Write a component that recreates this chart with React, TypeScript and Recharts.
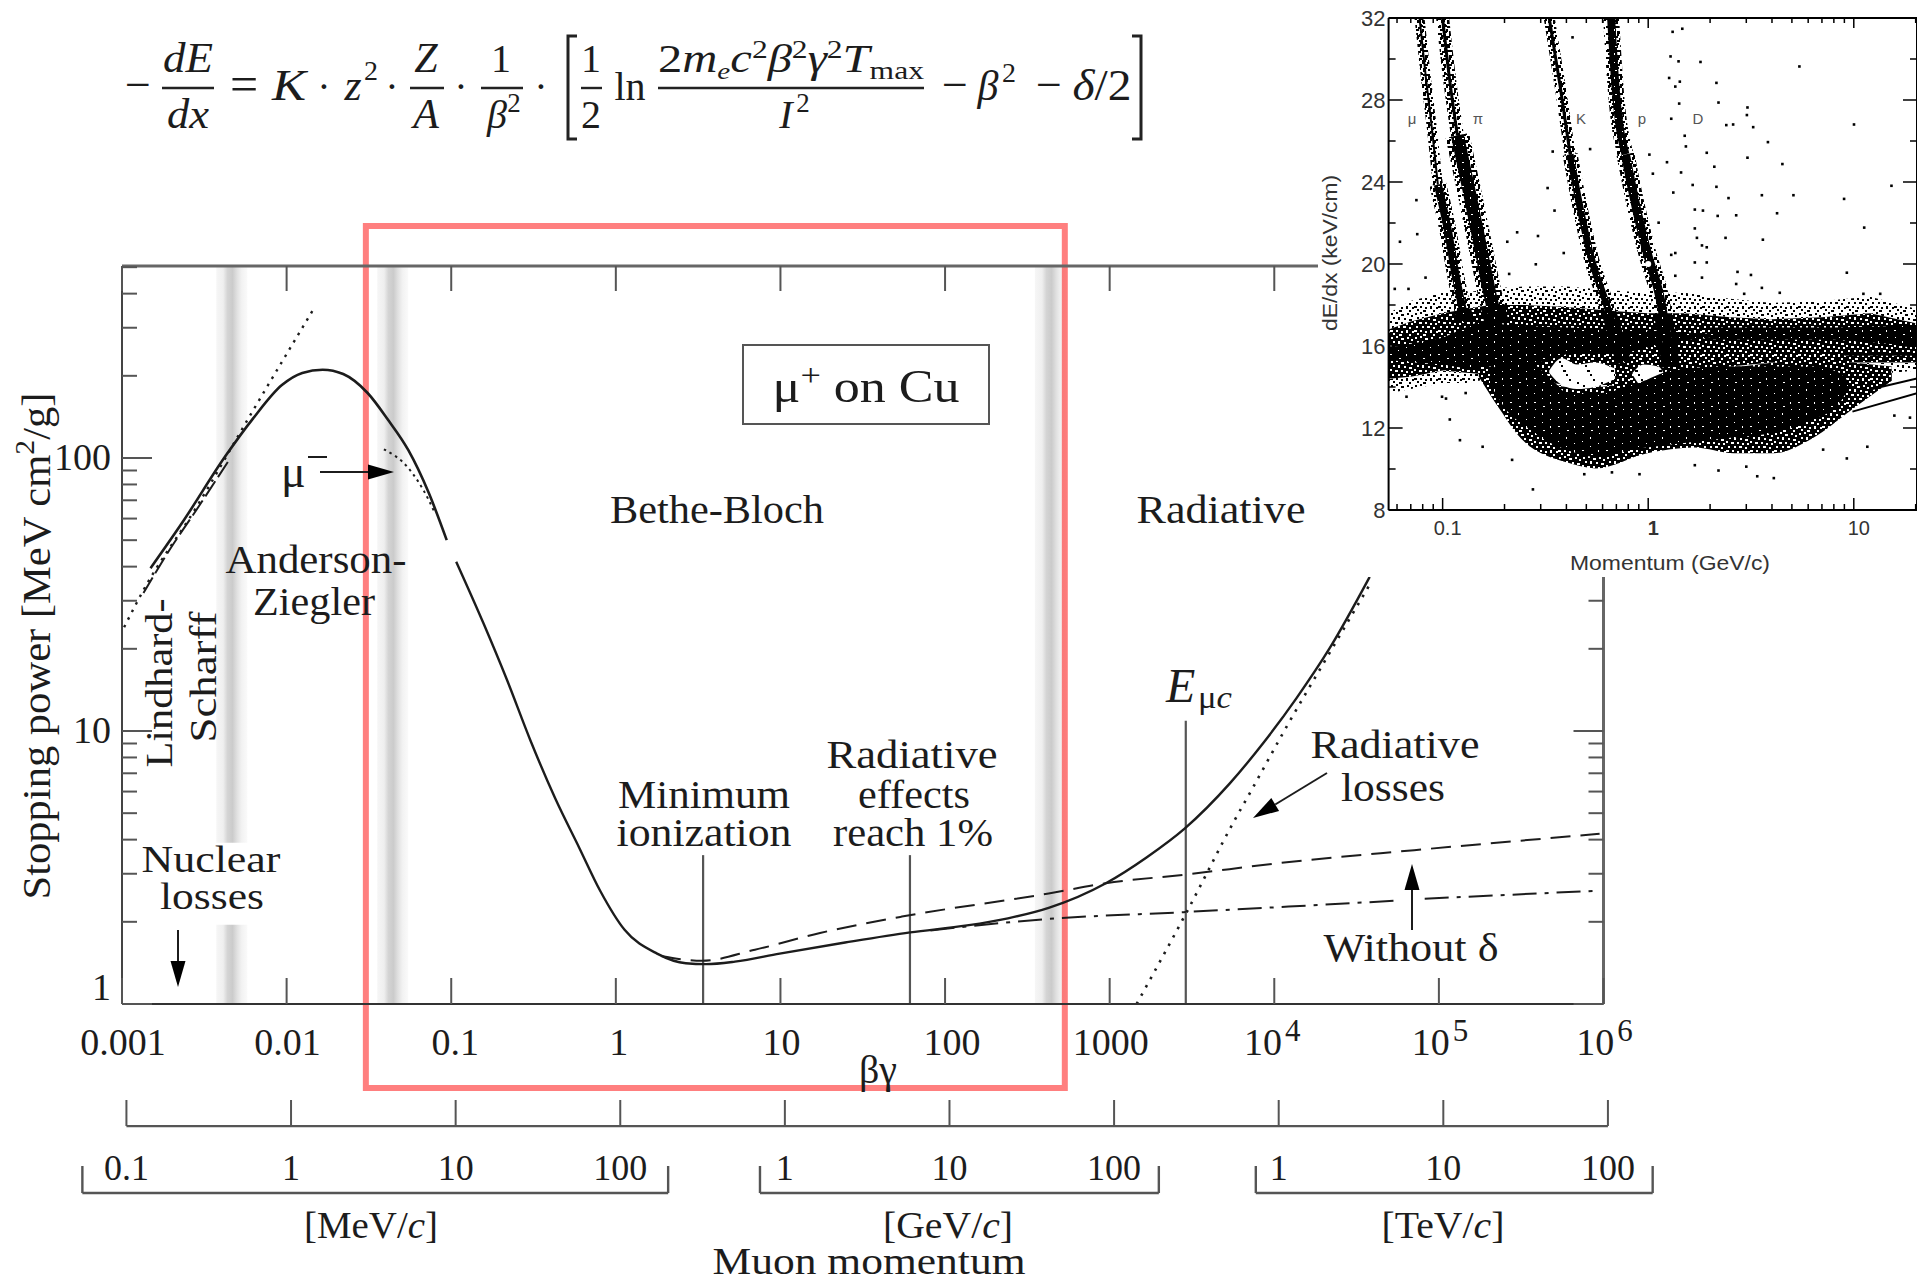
import { ComposedChart, Line, Area, Scatter, XAxis, YAxis, ReferenceArea, ReferenceLine } from "recharts"

const SERIF = "'Liberation Serif', serif"
const SANS = "'Liberation Sans', sans-serif"
const INK = "#1c1c1c"
const AXIS = "#555555"

// main plot: beta-gamma on x, stopping power on y
const betaGammaTicks = [0.001, 0.01, 0.1, 1, 10, 100, 1000, 1e4, 1e5, 1e6]
const betaGammaLabels = ["0.001", "0.01", "0.1", "1", "10", "100", "1000", "10|4", "10|5", "10|6"]
const stoppingMajor = [1, 10, 100]
const stoppingTicks = [1, 2, 3, 4, 5, 6, 7, 8, 9, 10, 20, 30, 40, 50, 60, 70, 80, 90, 100, 200, 300, 400, 500]
const momentumTicks = [0.1, 1, 10, 100, 1e3, 1e4, 1e5, 1e6, 1e7, 1e8]
const momentumLabels = ["0.1", "1", "10", "100", "1", "10", "100", "1", "10", "100"]

const andersonCurve = [
  { x: 0.00149, y: 39.5 }, { x: 0.00238, y: 59.3 }, { x: 0.00422, y: 101 }, { x: 0.00628, y: 140 },
  { x: 0.00936, y: 185 }, { x: 0.01245, y: 205 }, { x: 0.01656, y: 210.6 }, { x: 0.02207, y: 203 },
  { x: 0.03105, y: 173 }, { x: 0.0413, y: 138 }, { x: 0.0548, y: 107 }, { x: 0.0731, y: 74.4 }, { x: 0.0939, y: 50 },
]
const totalCurve = [
  { x: 0.1072, y: 41.7 }, { x: 0.157, y: 24.8 }, { x: 0.218, y: 15.4 }, { x: 0.302, y: 9.27 }, { x: 0.428, y: 5.67 },
  { x: 0.6, y: 3.73 }, { x: 0.803, y: 2.6 }, { x: 1.13, y: 1.87 }, { x: 1.78, y: 1.53 }, { x: 2.66, y: 1.41 },
  { x: 3.53, y: 1.4 }, { x: 5.29, y: 1.43 }, { x: 9.89, y: 1.53 }, { x: 24.7, y: 1.68 }, { x: 61.4, y: 1.83 },
  { x: 136, y: 1.94 }, { x: 241, y: 2.06 }, { x: 426, y: 2.25 }, { x: 948, y: 2.77 }, { x: 1683, y: 3.45 },
  { x: 2864, y: 4.4 }, { x: 5370, y: 6.43 }, { x: 8550, y: 9.02 }, { x: 13650, y: 13.2 }, { x: 21700, y: 20.1 }, { x: 38000, y: 36.7 },
]
const noRadiativeDashed = [
  { x: 1.88, y: 1.5 }, { x: 3.34, y: 1.44 }, { x: 7, y: 1.58 }, { x: 17.4, y: 1.82 }, { x: 54.7, y: 2.09 },
  { x: 426, y: 2.54 }, { x: 948, y: 2.77 }, { x: 2900, y: 2.98 }, { x: 10600, y: 3.28 }, { x: 70800, y: 3.66 }, { x: 947000, y: 4.2 },
]
const withoutDeltaLeft = [{ x: 81.6, y: 1.86 }, { x: 426, y: 2.05 }, { x: 2810, y: 2.17 }, { x: 55000, y: 2.39 }]
const withoutDeltaRight = [{ x: 82000, y: 2.43 }, { x: 920000, y: 2.6 }]
const radiativeDotted = [
  { x: 1458, y: 1 }, { x: 2900, y: 2.14 }, { x: 5750, y: 4.72 }, { x: 7280, y: 6.08 }, { x: 11590, y: 10.1 }, { x: 22200, y: 19.8 }, { x: 38900, y: 35.2 },
]
const lindhardDashed = [{ x: 0.00135, y: 32 }, { x: 0.002, y: 47.3 }, { x: 0.00283, y: 64.5 }, { x: 0.00447, y: 98.3 }]
const lowEnergyDotted = [
  { x: 0.00103, y: 24 }, { x: 0.00135, y: 32.8 }, { x: 0.00283, y: 66 }, { x: 0.00628, y: 150 }, { x: 0.01432, y: 345 },
]
const muMinusDotted = [{ x: 0.039, y: 107.6 }, { x: 0.0548, y: 92 }, { x: 0.0731, y: 70 }, { x: 0.0794, y: 63 }]
const axisAnchor = [{ x: 1, y: 10 }]

const markerLines = [
  { x: 3.39, top: 3.51 },
  { x: 61.2, top: 3.51 },
  { x: 2900, top: 10.9 },
]
const grayBands = [
  { x1: 0.00374, x2: 0.00577, y1: 3.9, y2: 505 },
  { x1: 0.00374, x2: 0.00577, y1: 1, y2: 1.95 },
  { x1: 0.03554, x2: 0.0548, y1: 1, y2: 505 },
  { x1: 351.6, x2: 550, y1: 1, y2: 505 },
]
const highlightBox = { x1: 0.0303, x2: 534, y1: 0.4925, y2: 708 }
const momentumRule = { from: 0.1, to: 1e8, y: 0.357 }
const momentumBrackets = [
  { from: 0.054, to: 195.4 },
  { from: 706, to: 187000 },
  { from: 726000, to: 1.87e8 },
]
const bracketLevels = { rule: 0.203, end: 0.255 }

// inset: dE/dx against momentum
const insetXMajor = [0.1, 1, 10]
const insetXTicks = [0.06, 0.07, 0.08, 0.09, 0.1, 0.2, 0.3, 0.4, 0.5, 0.6, 0.7, 0.8, 0.9, 1, 2, 3, 4, 5, 6, 7, 8, 9, 10, 20]
const insetYMajor = [8, 12, 16, 20, 24, 28, 32]
const insetYTicks = [8, 10, 12, 14, 16, 18, 20, 22, 24, 26, 28, 30, 32]
const insetAnchor = [{ p: 1, v: 20 }]

const muonUpper = [{ p: 0.0772, v: 32 }, { p: 0.083, v: 29.04 }, { p: 0.0887, v: 26.6 }, { p: 0.0948, v: 23.87 }]
const muonLower = [{ p: 0.0948, v: 23.87 }, { p: 0.106, v: 21.66 }, { p: 0.1157, v: 19.44 }, { p: 0.129, v: 17.2 }]
const pionUpper = [{ p: 0.1, v: 32 }, { p: 0.108, v: 29.04 }, { p: 0.118, v: 26.27 }]
const pionLower = [{ p: 0.118, v: 26.27 }, { p: 0.135, v: 23.5 }, { p: 0.151, v: 21.1 }, { p: 0.1685, v: 18.7 }, { p: 0.184, v: 17.04 }]
const kaonUpper = [{ p: 0.33, v: 32 }, { p: 0.373, v: 28.67 }, { p: 0.417, v: 25.35 }]
const kaonLower = [{ p: 0.417, v: 25.35 }, { p: 0.466, v: 22.76 }, { p: 0.532, v: 20.18 }, { p: 0.621, v: 18.15 }, { p: 0.759, v: 15.2 }]
const protonUpper = [{ p: 0.66, v: 32 }, { p: 0.693, v: 28.67 }, { p: 0.775, v: 25.35 }]
const protonLower = [{ p: 0.775, v: 25.35 }, { p: 0.866, v: 22.95 }, { p: 0.988, v: 20.55 }, { p: 1.153, v: 18.15 }, { p: 1.288, v: 15 }]

const electronFringe = [
  { p: 0.0546, range: [13.7, 17.6] }, { p: 0.07, range: [13.9, 18.2] }, { p: 0.1, range: [14.2, 18.6] }, { p: 0.13, range: [14.2, 18.6] },
  { p: 0.17, range: [14.4, 18.8] }, { p: 0.25, range: [14.2, 18.9] }, { p: 0.4, range: [14, 18.9] }, { p: 0.7, range: [14, 18.7] },
  { p: 1, range: [14, 18.6] }, { p: 1.5, range: [14.4, 18.6] }, { p: 2.5, range: [14.6, 18.3] }, { p: 4, range: [14.8, 18.1] },
  { p: 7, range: [14.8, 18.2] }, { p: 12, range: [14.6, 18.4] }, { p: 20.3, range: [14.8, 17.8] },
]
const electronBand = [
  { p: 0.0546, range: [14.4, 16.8] }, { p: 0.07, range: [14.5, 17.2] }, { p: 0.1, range: [14.8, 17.6] }, { p: 0.13, range: [14.7, 17.8] },
  { p: 0.17, range: [14.6, 18] }, { p: 0.25, range: [14.4, 18] }, { p: 0.4, range: [14.1, 17.9] }, { p: 0.7, range: [14.1, 17.7] },
  { p: 1, range: [14.1, 17.6] }, { p: 1.5, range: [14.6, 17.6] }, { p: 2.5, range: [15, 17.4] }, { p: 4, range: [15.2, 17.3] },
  { p: 7, range: [15.2, 17.4] }, { p: 12, range: [15.2, 17.6] }, { p: 20.3, range: [15.2, 17.1] },
]
const electronCore = [
  { p: 0.0546, range: [15.3, 15.9] }, { p: 0.1, range: [15.1, 16.4] }, { p: 0.15, range: [14.8, 17.2] }, { p: 0.22, range: [14.8, 17] },
  { p: 0.4, range: [15.6, 16.9] }, { p: 0.8, range: [15.7, 16.8] }, { p: 1.3, range: [16.2, 16.7] }, { p: 2, range: [16.4, 16.6] },
]
const electronRight = [{ p: 2, range: [16.3, 16.9] }, { p: 8, range: [16.3, 16.9] }, { p: 20.3, range: [16, 17] }]
const lowerHalo = [
  { p: 0.15, range: [14.5, 15] }, { p: 0.19, range: [12.9, 15] }, { p: 0.24, range: [11.5, 14.8] }, { p: 0.408, range: [10.3, 14] },
  { p: 0.556, range: [10.03, 14] }, { p: 0.988, range: [10.77, 14.5] }, { p: 1.68, range: [11.05, 15] }, { p: 2.61, range: [10.77, 15] },
  { p: 4.07, range: [10.77, 15.2] }, { p: 6.3, range: [11.5, 15.4] }, { p: 9.8, range: [12.9, 15.2] }, { p: 15.3, range: [14.3, 15] },
]
const lowerCore = [
  { p: 0.17, range: [14.2, 14.8] }, { p: 0.2, range: [13, 15.2] }, { p: 0.26, range: [12, 15.2] }, { p: 0.33, range: [11.3, 14.5] },
  { p: 0.408, range: [10.9, 13.7] }, { p: 0.556, range: [10.6, 13.7] }, { p: 0.9, range: [11, 14.2] }, { p: 1.3, range: [11.2, 14.8] },
  { p: 2.4, range: [11.5, 15] }, { p: 4.2, range: [11.8, 15] }, { p: 6.3, range: [12.4, 15] }, { p: 8.5, range: [13.2, 14.7] }, { p: 9.5, range: [14, 14.2] },
]
const pionHole = [{ p: 0.33, range: [14.7, 14.8] }, { p: 0.38, range: [14.1, 15.4] }, { p: 0.45, range: [13.9, 15.1] }, { p: 0.55, range: [14, 15.2] }, { p: 0.69, range: [14.4, 14.9] }]
const protonHole = [{ p: 0.84, range: [14.6, 14.7] }, { p: 0.95, range: [14, 15.1] }, { p: 1.12, range: [14.1, 15] }, { p: 1.2, range: [14.5, 14.6] }]
const trackUpper = [{ p: 12.3, v: 13.9 }, { p: 20.3, v: 14.42 }]
const trackLower = [{ p: 9.85, v: 12.8 }, { p: 20.3, v: 13.7 }]
const trackFlatA = [{ p: 6, v: 16.49 }, { p: 20.3, v: 16.49 }]
const trackFlatB = [{ p: 9, v: 15.57 }, { p: 20.3, v: 15.57 }]

const strayPoints = [
  { p: 1.31, v: 31.34 }, { p: 1.46, v: 31.49 }, { p: 1.28, v: 30.14 }, { p: 1.4, v: 29.9 }, { p: 1.79, v: 29.87 }, { p: 5.42, v: 29.65 },
  { p: 1.26, v: 29.09 }, { p: 1.42, v: 28.91 }, { p: 1.35, v: 28.67 }, { p: 2.14, v: 28.85 }, { p: 2.19, v: 27.89 }, { p: 1.41, v: 27.84 },
  { p: 3.03, v: 27.65 }, { p: 1.29, v: 27.1 }, { p: 3.01, v: 27.28 }, { p: 9.99, v: 26.82 }, { p: 1.5, v: 26.27 }, { p: 2.39, v: 26.79 },
  { p: 2.58, v: 26.82 }, { p: 3.23, v: 26.69 }, { p: 3.81, v: 25.96 }, { p: 1.92, v: 25.44 }, { p: 1.52, v: 25.75 }, { p: 1.01, v: 25.35 },
  { p: 3.03, v: 25.2 }, { p: 2.09, v: 24.76 }, { p: 4.48, v: 24.89 }, { p: 1.44, v: 24.48 }, { p: 1.05, v: 24.42 }, { p: 1.23, v: 24.98 },
  { p: 1.32, v: 23.5 }, { p: 1.64, v: 23.87 }, { p: 2.14, v: 23.78 }, { p: 2.45, v: 23.23 }, { p: 15.2, v: 23.83 }, { p: 3.56, v: 23.37 },
  { p: 5.07, v: 23.37 }, { p: 8.94, v: 23.19 }, { p: 1.68, v: 22.67 }, { p: 1.84, v: 22.62 }, { p: 2.17, v: 22.36 }, { p: 2.67, v: 22.39 },
  { p: 4.22, v: 22.49 }, { p: 1.12, v: 22.03 }, { p: 1.68, v: 21.75 }, { p: 1.72, v: 21.29 }, { p: 2.37, v: 21.29 }, { p: 3.6, v: 21.2 },
  { p: 11.2, v: 21.79 }, { p: 1.82, v: 20.92 }, { p: 1.92, v: 20.83 }, { p: 1.29, v: 20.46 }, { p: 1.35, v: 20.55 }, { p: 1.68, v: 20.09 },
  { p: 1.92, v: 20.09 }, { p: 9.22, v: 19.59 }, { p: 2.71, v: 19.63 }, { p: 3.15, v: 19.48 }, { p: 1.35, v: 19.44 }, { p: 1.82, v: 19.35 },
  { p: 2.67, v: 19.04 }, { p: 3.56, v: 18.85 }, { p: 2.92, v: 18.56 }, { p: 4.35, v: 18.61 }, { p: 11.1, v: 18.56 }, { p: 13.4, v: 18.56 },
  { p: 0.0743, v: 23.13 }, { p: 0.075, v: 21.47 }, { p: 0.0618, v: 21.1 }, { p: 0.0823, v: 19.35 }, { p: 0.0583, v: 18.8 }, { p: 0.068, v: 18.8 },
  { p: 0.2056, v: 21.1 }, { p: 0.2296, v: 21.56 }, { p: 0.29, v: 21.38 }, { p: 0.387, v: 20.55 }, { p: 0.283, v: 20 }, { p: 0.21, v: 19.53 },
  { p: 0.323, v: 23.72 }, { p: 0.349, v: 22.62 }, { p: 0.427, v: 31.07 }, { p: 0.52, v: 25.62 }, { p: 0.342, v: 25.5 },
  { p: 0.1035, v: 13.45 }, { p: 0.121, v: 11.42 }, { p: 0.156, v: 11.1 }, { p: 0.108, v: 12.43 }, { p: 0.274, v: 9.02 }, { p: 0.217, v: 10.46 },
  { p: 4.07, v: 9.57 }, { p: 3.38, v: 9.66 }, { p: 2.99, v: 10.13 }, { p: 9.22, v: 10.53 }, { p: 11.6, v: 11.1 }, { p: 7.07, v: 10.96 },
  { p: 15.7, v: 12.62 }, { p: 18.7, v: 12.52 }, { p: 0.487, v: 9.76 }, { p: 0.664, v: 9.85 }, { p: 0.904, v: 9.76 }, { p: 2.19, v: 9.94 },
  { p: 1.68, v: 10.2 }, { p: 0.129, v: 13.72 }, { p: 0.099, v: 13.54 }, { p: 0.0665, v: 13.54 },
]

// speckle texture for the dense clouds, one 24px tile
const speckleCells = [
  [1, 1, 2, 2], [6, 0, 2, 2], [11, 2, 3, 2], [17, 1, 2, 2], [21, 3, 2, 2], [3, 5, 2, 2], [8, 5, 2, 3], [14, 6, 2, 2], [19, 7, 3, 2],
  [0, 9, 2, 2], [5, 10, 3, 2], [11, 10, 2, 2], [16, 11, 2, 2], [21, 11, 2, 2], [2, 14, 2, 2], [8, 14, 2, 2], [13, 14, 3, 2], [19, 15, 2, 2],
  [0, 18, 3, 2], [6, 18, 2, 2], [11, 19, 2, 2], [16, 18, 2, 3], [22, 19, 2, 2], [3, 21, 2, 2], [9, 22, 3, 2], [19, 22, 2, 2],
]

const Txt = ({ x, y, size = 40, anchor = "middle", font = SERIF, fill = INK, w, children, ...rest }: any) => (
  <text x={x} y={y} fontSize={size} textAnchor={anchor} fontFamily={font} fill={fill}
    {...(w ? { textLength: w, lengthAdjust: "spacingAndGlyphs" } : {})} {...rest}>
    {children}
  </text>
)

const Arrow = ({ x1, y1, x2, y2 }: any) => {
  const a = Math.atan2(y2 - y1, x2 - x1)
  const bx = x2 - 26 * Math.cos(a)
  const by = y2 - 26 * Math.sin(a)
  const nx = 7.5 * Math.sin(a)
  const ny = 7.5 * Math.cos(a)
  return (
    <g>
      <line x1={x1} y1={y1} x2={bx} y2={by} stroke={INK} strokeWidth={2} />
      <polygon points={`${x2},${y2} ${bx + nx},${by - ny} ${bx - nx},${by + ny}`} fill="#000" />
    </g>
  )
}

// the printed labels do not sit exactly under their ticks
const labelNudge: Record<number, number> = { 0.1: 3, 1: 2, 100: 6, 10000: -3 }

const BetaGammaTick = ({ x, y, payload }: any) => {
  const [base, sup] = betaGammaLabels[betaGammaTicks.indexOf(payload.value)].split("|")
  return (
    <g>
      <line x1={x} x2={x} y1={y} y2={y - 26} stroke={AXIS} strokeWidth={2} />
      <Txt x={x + 1 + (labelNudge[payload.value] ?? 0)} y={y + 51} size={38}>
        {base}
        {sup && <tspan dy={-14} dx={3} fontSize={31}>{sup}</tspan>}
      </Txt>
    </g>
  )
}
const TopTick = ({ x, y }: any) => <line x1={x} x2={x} y1={y} y2={y + 25} stroke={AXIS} strokeWidth={2} />

const StoppingTick = ({ x, y, payload }: any) => {
  const major = stoppingMajor.includes(payload.value)
  return (
    <g>
      <line x1={x} x2={x + (major ? 30 : 15)} y1={y} y2={y} stroke={AXIS} strokeWidth={2} />
      {major && (
        <Txt x={x - 11} y={y + (payload.value === 1 ? -4 : 12)} size={38} anchor="end">
          {payload.value}
        </Txt>
      )}
    </g>
  )
}
const StoppingRightTick = ({ x, y, payload }: any) => {
  const major = stoppingMajor.includes(payload.value)
  return <line x1={x} x2={x - (major ? 30 : 15)} y1={y} y2={y} stroke={AXIS} strokeWidth={2} />
}

const MomentumTick = ({ x, y, payload }: any) => (
  <g>
    <line x1={x} x2={x} y1={y} y2={y - 26} stroke={AXIS} strokeWidth={2} />
    <Txt x={x} y={y + 54} size={36}>
      {momentumLabels[momentumTicks.indexOf(payload.value)]}
    </Txt>
  </g>
)

const InsetXTick = ({ x, y, payload }: any) => {
  const major = insetXMajor.includes(payload.value)
  return (
    <g>
      <line x1={x} x2={x} y1={y} y2={y - (major ? 12 : 6)} stroke="#000" strokeWidth={1.5} />
      {major && (
        <Txt x={x + 5} y={y + 25} size={20} font={SANS} fill="#333" fontWeight={payload.value === 1 ? 700 : 400}>
          {payload.value}
        </Txt>
      )}
    </g>
  )
}
const InsetTopTick = ({ x, y, payload }: any) => (
  <line x1={x} x2={x} y1={y} y2={y + (insetXMajor.includes(payload.value) ? 10 : 5)} stroke="#000" strokeWidth={1.5} />
)
const InsetYTick = ({ x, y, payload }: any) => {
  const major = insetYMajor.includes(payload.value)
  return (
    <g>
      <line x1={x} x2={x + (major ? 14 : 7)} y1={y} y2={y} stroke="#000" strokeWidth={1.5} />
      {major && (
        <Txt x={x - 3} y={y + 8} size={22} anchor="end" font={SANS} fill="#333">
          {payload.value}
        </Txt>
      )}
    </g>
  )
}
const InsetRightTick = ({ x, y, payload }: any) => (
  <line x1={x} x2={x - (insetYMajor.includes(payload.value) ? 14 : 7)} y1={y} y2={y} stroke="#000" strokeWidth={1.5} />
)

const curve = { dot: false, isAnimationActive: false, stroke: INK, type: "monotone" as const, legendType: "none" as const }
const cloud = { stroke: "none", fillOpacity: 1, dot: false, isAnimationActive: false, legendType: "none" as const }
const band = { type: "monotone" as const, dot: false, isAnimationActive: false, legendType: "none" as const }

function MainChart() {
  return (
    <ComposedChart
      width={1917}
      height={1280}
      margin={{ top: 265, right: 312.5, bottom: 0, left: 0 }}
      style={{ position: "absolute", left: 0, top: 0 }}
    >
      <defs>
        <linearGradient id="grayBand" x1="0" y1="0" x2="1" y2="0">
          <stop offset="0%" stopColor="#f6f6f6" />
          <stop offset="22%" stopColor="#efefef" />
          <stop offset="36%" stopColor="#d4d4d4" />
          <stop offset="52%" stopColor="#cbcbcb" />
          <stop offset="68%" stopColor="#e2e2e2" />
          <stop offset="82%" stopColor="#f2f2f2" />
          <stop offset="100%" stopColor="#fafafa" />
        </linearGradient>
      </defs>
      <XAxis xAxisId={0} dataKey="x" type="number" scale="log" domain={[0.001, 1e6]} allowDataOverflow ticks={betaGammaTicks} interval={0}
        height={122} tickSize={0} tickMargin={0} tick={BetaGammaTick} stroke="#333" strokeWidth={2} />
      <XAxis xAxisId="momentum" dataKey="x" type="number" scale="log" domain={[0.094, 0.94e8]} allowDataOverflow ticks={momentumTicks} interval={0}
        height={154} tickSize={0} tickMargin={0} axisLine={false} tick={MomentumTick} />
      <XAxis xAxisId="top" orientation="top" dataKey="x" type="number" scale="log" domain={[0.001, 1e6]} allowDataOverflow ticks={betaGammaTicks} interval={0}
        height={1} tickSize={0} tickMargin={0} tick={TopTick} stroke="#666" strokeWidth={3} />
      <YAxis yAxisId={0} dataKey="y" type="number" scale="log" domain={[1, 505]} allowDataOverflow ticks={stoppingTicks} interval={0}
        width={122} tickSize={0} tickMargin={0} tick={StoppingTick} stroke="#444" strokeWidth={2} />
      <YAxis yAxisId="right" orientation="right" dataKey="y" type="number" scale="log" domain={[1, 505]} allowDataOverflow ticks={stoppingTicks} interval={0}
        width={1} tickSize={0} tickMargin={0} tick={StoppingRightTick} stroke="#666" strokeWidth={3} />

      {grayBands.map((b, i) => (
        <ReferenceArea key={i} x1={b.x1} x2={b.x2} y1={b.y1} y2={b.y2} fill="url(#grayBand)" fillOpacity={1} stroke="none" ifOverflow="visible" />
      ))}

      {markerLines.map((m, i) => (
        <ReferenceLine key={i} segment={[{ x: m.x, y: 1 }, { x: m.x, y: m.top }]} stroke="#555" strokeWidth={2.2} ifOverflow="visible" />
      ))}

      <Line {...curve} data={axisAnchor} dataKey="y" xAxisId="momentum" stroke="none" />
      <Line {...curve} data={axisAnchor} dataKey="y" xAxisId="top" yAxisId="right" stroke="none" />
      <Line {...curve} data={andersonCurve} dataKey="y" strokeWidth={2.6} />
      <Line {...curve} data={totalCurve} dataKey="y" strokeWidth={2.4} />
      <Line {...curve} data={noRadiativeDashed} dataKey="y" strokeWidth={2} strokeDasharray="20 10" />
      <Line {...curve} data={withoutDeltaLeft} dataKey="y" strokeWidth={2} strokeDasharray="24 8 4 8" />
      <Line {...curve} data={withoutDeltaRight} dataKey="y" strokeWidth={2} strokeDasharray="24 8 4 8" />
      <Line {...curve} data={radiativeDotted} dataKey="y" strokeWidth={2.6} strokeDasharray="2.5 7" />
      <Line {...curve} data={lindhardDashed} dataKey="y" strokeWidth={2} strokeDasharray="18 5" />
      <Line {...curve} data={lowEnergyDotted} dataKey="y" strokeWidth={2.4} strokeDasharray="2.5 6" />
      <Line {...curve} data={muMinusDotted} dataKey="y" strokeWidth={2} strokeDasharray="2.5 4" />

      <ReferenceLine xAxisId="momentum" segment={[{ x: momentumRule.from, y: momentumRule.y }, { x: momentumRule.to, y: momentumRule.y }]}
        stroke={AXIS} strokeWidth={2.4} ifOverflow="visible" />
      {momentumBrackets.map((b, i) => (
        <g key={i}>
          <ReferenceLine xAxisId="momentum" segment={[{ x: b.from, y: bracketLevels.rule }, { x: b.to, y: bracketLevels.rule }]} stroke={AXIS} strokeWidth={2.4} ifOverflow="visible" />
          <ReferenceLine xAxisId="momentum" segment={[{ x: b.from, y: bracketLevels.rule }, { x: b.from, y: bracketLevels.end }]} stroke={AXIS} strokeWidth={2.4} ifOverflow="visible" />
          <ReferenceLine xAxisId="momentum" segment={[{ x: b.to, y: bracketLevels.rule }, { x: b.to, y: bracketLevels.end }]} stroke={AXIS} strokeWidth={2.4} ifOverflow="visible" />
        </g>
      ))}

      <ReferenceArea {...highlightBox} fill="none" stroke="#ff0000" strokeOpacity={0.5} strokeWidth={6} ifOverflow="visible" />
    </ComposedChart>
  )
}

function Annotations() {
  return (
    <svg width={1917} height={1280} style={{ position: "absolute", left: 0, top: 0, pointerEvents: "none" }}>
      {/* formula */}
      <g fontStyle="italic">
        <Txt x={138} y={100} size={46} fontStyle="normal">−</Txt>
        <Txt x={188} y={72} size={42} w={50}>dE</Txt>
        <Txt x={188} y={128} size={42} w={42}>dx</Txt>
        <Txt x={244} y={101} size={50} fontStyle="normal">=</Txt>
        <Txt x={289} y={100} size={44} w={34}>K</Txt>
        <Txt x={324} y={100} size={40} fontStyle="normal">·</Txt>
        <Txt x={353} y={100} size={44}>z</Txt>
        <Txt x={371} y={80} size={28} fontStyle="normal">2</Txt>
        <Txt x={392} y={100} size={40} fontStyle="normal">·</Txt>
        <Txt x={426} y={72} size={42}>Z</Txt>
        <Txt x={426} y={128} size={42}>A</Txt>
        <Txt x={461} y={100} size={40} fontStyle="normal">·</Txt>
        <Txt x={501} y={72} size={40} fontStyle="normal">1</Txt>
        <Txt x={497} y={128} size={40}>β</Txt>
        <Txt x={514} y={112} size={27} fontStyle="normal">2</Txt>
        <Txt x={541} y={100} size={40} fontStyle="normal">·</Txt>
        <Txt x={591} y={72} size={40} fontStyle="normal">1</Txt>
        <Txt x={591} y={128} size={40} fontStyle="normal">2</Txt>
        <Txt x={630} y={100} size={40} fontStyle="normal">ln</Txt>
        <Txt x={658} y={72} size={40} anchor="start" w={266}>
          <tspan fontStyle="normal">2</tspan>m<tspan fontSize={24} dy={7}>e</tspan>
          <tspan dy={-7}>c</tspan><tspan fontStyle="normal" fontSize={26} dy={-14}>2</tspan>
          <tspan dy={14}>β</tspan><tspan fontStyle="normal" fontSize={26} dy={-14}>2</tspan>
          <tspan dy={14}>γ</tspan><tspan fontStyle="normal" fontSize={26} dy={-14}>2</tspan>
          <tspan dy={14}>T</tspan><tspan fontStyle="normal" fontSize={26} dy={7}>max</tspan>
        </Txt>
        <Txt x={786} y={128} size={40}>I</Txt>
        <Txt x={803} y={112} size={27} fontStyle="normal">2</Txt>
        <Txt x={955} y={100} size={46} fontStyle="normal">−</Txt>
        <Txt x={988} y={100} size={42}>β</Txt>
        <Txt x={1009} y={82} size={28} fontStyle="normal">2</Txt>
        <Txt x={1049} y={100} size={46} fontStyle="normal">−</Txt>
        <Txt x={1102} y={100} size={44} w={59}>δ<tspan fontStyle="normal">/2</tspan></Txt>
      </g>
      <g stroke="#222" strokeWidth={2.4} fill="none">
        <line x1={162} x2={214} y1={88} y2={88} />
        <line x1={410} x2={444} y1={88} y2={88} />
        <line x1={481} x2={523} y1={88} y2={88} />
        <line x1={581} x2={602} y1={88} y2={88} />
        <line x1={658} x2={924} y1={88} y2={88} />
        <polyline points="577,36 568,36 568,139 577,139" strokeWidth={3} />
        <polyline points="1132,36 1141,36 1141,139 1132,139" strokeWidth={3} />
      </g>

      {/* axis titles */}
      <Txt x={50} y={646} size={40} transform="rotate(-90 50 646)" w={507}>
        Stopping power [MeV cm<tspan fontSize={28} dy={-16}>2</tspan><tspan dy={16}>/g]</tspan>
      </Txt>
      <Txt x={878} y={1083} size={40}>βγ</Txt>
      <Txt x={371} y={1238} size={37} w={134}>[MeV/<tspan fontStyle="italic">c</tspan>]</Txt>
      <Txt x={948} y={1238} size={37} w={130}>[GeV/<tspan fontStyle="italic">c</tspan>]</Txt>
      <Txt x={1443} y={1238} size={37} w={123}>[TeV/<tspan fontStyle="italic">c</tspan>]</Txt>
      <Txt x={869} y={1274} size={38} w={313}>Muon momentum</Txt>

      {/* labels inside the plot */}
      <rect x={743} y={345} width={246} height={79} fill="#fff" stroke="#555" strokeWidth={2} />
      <Txt x={866} y={402} size={46} w={187}>μ<tspan fontSize={32} dy={-16}>+</tspan><tspan dy={16}> on Cu</tspan></Txt>
      <Txt x={717} y={523} size={40} w={214}>Bethe-Bloch</Txt>
      <Txt x={1221} y={523} size={40} w={169}>Radiative</Txt>
      <Txt x={316} y={573} size={39} w={181}>Anderson-</Txt>
      <Txt x={314} y={615} size={39} w={122}>Ziegler</Txt>
      <Txt x={172} y={683} size={38} w={169} transform="rotate(-90 172 683)">Lindhard-</Txt>
      <Txt x={216} y={677} size={38} w={131} transform="rotate(-90 216 677)">Scharff</Txt>
      <Txt x={211} y={872} size={38} w={139}>Nuclear</Txt>
      <Txt x={212} y={909} size={38} w={104}>losses</Txt>
      <Txt x={281} y={487} size={46} anchor="start">μ</Txt>
      <line x1={308} x2={327} y1={457} y2={457} stroke={INK} strokeWidth={2} />
      <Txt x={704} y={808} size={39} w={172}>Minimum</Txt>
      <Txt x={704} y={846} size={39} w={175}>ionization</Txt>
      <Txt x={912} y={768} size={39} w={171}>Radiative</Txt>
      <Txt x={914} y={808} size={39} w={112}>effects</Txt>
      <Txt x={913} y={846} size={39} w={160}>reach 1%</Txt>
      <Txt x={1166} y={702} size={48} anchor="start" fontStyle="italic">E</Txt>
      <Txt x={1198} y={708} size={32} anchor="start" w={34}>μ<tspan fontStyle="italic">c</tspan></Txt>
      <Txt x={1395} y={758} size={39} w={169}>Radiative</Txt>
      <Txt x={1393} y={801} size={39} w={104}>losses</Txt>
      <Txt x={1411} y={961} size={39} w={175}>Without δ</Txt>

      <Arrow x1={178} y1={930} x2={178} y2={987} />
      <Arrow x1={320} y1={472} x2={394} y2={472} />
      <Arrow x1={1327} y1={773} x2={1253} y2={818} />
      <Arrow x1={1412} y1={930} x2={1412} y2={864} />
    </svg>
  )
}

function Inset() {
  return (
    <div style={{ position: "absolute", left: 1318, top: 0, width: 599, height: 577, background: "#fff" }}>
      <ComposedChart width={599} height={577} margin={{ top: 17, right: -1, bottom: 0, left: 0 }}>
        <defs>
          <pattern id="speckleSparse" width="24" height="24" patternUnits="userSpaceOnUse">
            {speckleCells.map(([x, y, w, h], i) => (
              <rect key={i} x={x} y={y} width={w} height={h} fill="#000" />
            ))}
          </pattern>
          <pattern id="speckleMid" width="24" height="24" patternUnits="userSpaceOnUse">
            {speckleCells.map(([x, y, w, h], i) => (
              <g key={i}>
                <rect x={x} y={y} width={w} height={h} fill="#000" />
                <rect x={(x + 3) % 22} y={(y + 2) % 22} width={w + 1} height={h} fill="#000" />
              </g>
            ))}
          </pattern>
          <pattern id="speckleHeavy" width="24" height="24" patternUnits="userSpaceOnUse">
            <rect width="24" height="24" fill="#000" />
            {speckleCells.map(([x, y, w, h], i) => (
              <rect key={i} x={x} y={y} width={w} height={h} fill="#fff" />
            ))}
          </pattern>
          <pattern id="speckleDense" width="24" height="24" patternUnits="userSpaceOnUse">
            <rect width="24" height="24" fill="#000" />
            {speckleCells.filter((_, i) => i % 3 === 0).map(([x, y, w, h], i) => (
              <rect key={i} x={x} y={y} width={w - 1} height={h - 1} fill="#fff" />
            ))}
          </pattern>
          <pattern id="speckleHole" width="24" height="24" patternUnits="userSpaceOnUse">
            <rect width="24" height="24" fill="#fff" />
            {speckleCells.filter((_, i) => i % 5 === 0).map(([x, y, w, h], i) => (
              <rect key={i} x={x} y={y} width={w} height={h} fill="#000" />
            ))}
          </pattern>
        </defs>
        <XAxis xAxisId={0} dataKey="p" type="number" scale="log" domain={[0.0546, 20.3]} allowDataOverflow ticks={insetXTicks} interval={0}
          height={67} tickSize={0} tickMargin={0} tick={InsetXTick} stroke="#000" strokeWidth={2} />
        <XAxis xAxisId="top" orientation="top" dataKey="p" type="number" scale="log" domain={[0.0546, 20.3]} allowDataOverflow ticks={insetXTicks} interval={0}
          height={1} tickSize={0} tickMargin={0} tick={InsetTopTick} stroke="#000" strokeWidth={2} />
        <YAxis yAxisId={0} dataKey="v" type="number" domain={[8, 32]} allowDataOverflow ticks={insetYTicks} interval={0}
          width={70.6} tickSize={0} tickMargin={0} tick={InsetYTick} stroke="#000" strokeWidth={2} />
        <YAxis yAxisId="right" orientation="right" dataKey="v" type="number" domain={[8, 32]} allowDataOverflow ticks={insetYTicks} interval={0}
          width={1} tickSize={0} tickMargin={0} tick={InsetRightTick} stroke="#000" strokeWidth={2} />

        <Line {...band} data={insetAnchor} dataKey="v" xAxisId="top" yAxisId="right" stroke="none" />

        <Area {...cloud} data={electronFringe} dataKey="range" type="linear" fill="url(#speckleSparse)" />
        <Area {...cloud} data={electronBand} dataKey="range" type="linear" fill="url(#speckleHeavy)" />
        <Area {...cloud} data={electronCore} dataKey="range" type="linear" fill="url(#speckleDense)" />
        <Area {...cloud} data={electronRight} dataKey="range" type="linear" fill="url(#speckleDense)" />
        <Area {...cloud} data={lowerHalo} dataKey="range" type="monotone" fill="url(#speckleHeavy)" />
        <Area {...cloud} data={pionHole} dataKey="range" type="monotone" fill="url(#speckleHole)" />
        <Area {...cloud} data={protonHole} dataKey="range" type="monotone" fill="url(#speckleHole)" />
        <Area {...cloud} data={lowerCore} dataKey="range" type="monotone" fill="url(#speckleDense)" />

        <Line {...band} data={muonUpper} dataKey="v" stroke="url(#speckleMid)" strokeWidth={10} />
        <Line {...band} data={muonUpper} dataKey="v" stroke="#000" strokeWidth={2} />
        <Line {...band} data={muonLower} dataKey="v" stroke="url(#speckleMid)" strokeWidth={17} />
        <Line {...band} data={muonLower} dataKey="v" stroke="url(#speckleDense)" strokeWidth={8} />
        <Line {...band} data={pionUpper} dataKey="v" stroke="url(#speckleMid)" strokeWidth={13} />
        <Line {...band} data={pionUpper} dataKey="v" stroke="#000" strokeWidth={3} />
        <Line {...band} data={pionLower} dataKey="v" stroke="url(#speckleMid)" strokeWidth={24} />
        <Line {...band} data={pionLower} dataKey="v" stroke="url(#speckleDense)" strokeWidth={13} />
        <Line {...band} data={kaonUpper} dataKey="v" stroke="url(#speckleMid)" strokeWidth={11} />
        <Line {...band} data={kaonUpper} dataKey="v" stroke="#000" strokeWidth={3} />
        <Line {...band} data={kaonLower} dataKey="v" stroke="url(#speckleMid)" strokeWidth={15} />
        <Line {...band} data={kaonLower} dataKey="v" stroke="url(#speckleDense)" strokeWidth={7} />
        <Line {...band} data={protonUpper} dataKey="v" stroke="url(#speckleMid)" strokeWidth={16} />
        <Line {...band} data={protonUpper} dataKey="v" stroke="url(#speckleDense)" strokeWidth={8} />
        <Line {...band} data={protonLower} dataKey="v" stroke="url(#speckleMid)" strokeWidth={18} />
        <Line {...band} data={protonLower} dataKey="v" stroke="url(#speckleDense)" strokeWidth={9} />

        <Line {...band} data={trackUpper} dataKey="v" type="linear" stroke="#000" strokeWidth={2} />
        <Line {...band} data={trackLower} dataKey="v" type="linear" stroke="#000" strokeWidth={2} />
        <Line {...band} data={trackFlatA} dataKey="v" type="linear" stroke="#000" strokeWidth={2} />
        <Line {...band} data={trackFlatB} dataKey="v" type="linear" stroke="#000" strokeWidth={2} />

        <Scatter data={strayPoints} dataKey="v" isAnimationActive={false}
          shape={({ cx, cy }: any) => <rect x={cx - 1} y={cy - 1} width={2.6} height={2.6} fill="#000" />} />
      </ComposedChart>
      <svg width={599} height={577} style={{ position: "absolute", left: 0, top: 0, pointerEvents: "none" }}>
        <Txt x={19} y={253} size={20} font={SANS} fill="#333" transform="rotate(-90 19 253)" w={156}>dE/dx (keV/cm)</Txt>
        <Txt x={352} y={570} size={21} font={SANS} fill="#333" w={200}>Momentum (GeV/c)</Txt>
        <Txt x={94} y={124} size={15} font={SANS} fill="#555">μ</Txt>
        <Txt x={160} y={124} size={15} font={SANS} fill="#555">π</Txt>
        <Txt x={263} y={124} size={15} font={SANS} fill="#555">K</Txt>
        <Txt x={324} y={124} size={15} font={SANS} fill="#555">p</Txt>
        <Txt x={380} y={124} size={15} font={SANS} fill="#555">D</Txt>
      </svg>
    </div>
  )
}

export default function App() {
  return (
    <div style={{ position: "absolute", left: 0, top: 0, width: 1917, height: 1280, background: "#fff", overflow: "hidden" }}>
      <MainChart />
      <Annotations />
      <Inset />
    </div>
  )
}
